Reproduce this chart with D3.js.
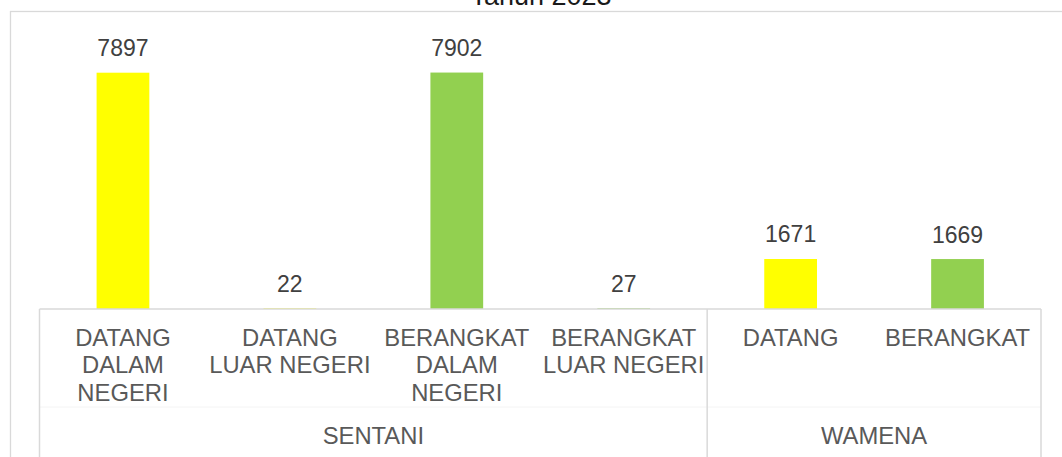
<!DOCTYPE html>
<html>
<head>
<meta charset="utf-8">
<script src="https://cdn.jsdelivr.net/npm/d3@7"></script>
<style>
  body { margin: 0; background: #fff; }
  svg { display: block; font-family: "Liberation Sans", Arial, sans-serif; }
</style>
</head>
<body>
<div id="chart"></div>
<script>
var width = 1062,
    height = 457;

// data
var groups = ["SENTANI", "SENTANI", "SENTANI", "SENTANI", "WAMENA", "WAMENA"];
var categories = [
  ["DATANG", "DALAM", "NEGERI"],
  ["DATANG", "LUAR NEGERI"],
  ["BERANGKAT", "DALAM", "NEGERI"],
  ["BERANGKAT", "LUAR NEGERI"],
  ["DATANG"],
  ["BERANGKAT"]
];
var kinds = ["datang", "datang", "berangkat", "berangkat", "datang", "berangkat"];
var values = [7897, 22, 7902, 27, 1671, 1669];
var title = "Tahun 2023";

var colors = { datang: "#FFFF00", berangkat: "#92D050" };

var plotLeft = 39.5,
    plotRight = 1041,
    baseY = 309;

var svg = d3.select("#chart").append("svg")
    .attr("width", width)
    .attr("height", height);

// chart area border (only top + left fall inside the picture)
svg.append("rect")
    .attr("x", 10.5).attr("y", 11.5)
    .attr("width", width + 20).attr("height", height + 20)
    .attr("fill", "none")
    .attr("stroke", "#D9D9D9")
    .attr("stroke-width", 1.3);

svg.append("text")
    .attr("x", 541).attr("y", 4.5)
    .attr("text-anchor", "middle")
    .attr("font-size", 27)
    .attr("fill", "#1a1a1a")
    .text(title);

var x = d3.scaleBand()
    .domain(d3.range(values.length))
    .range([plotLeft, plotRight])
    .paddingInner(0.684)
    .paddingOuter(0.342);

var y = d3.scaleLinear()
    .domain([0, 9000])
    .range([baseY, baseY - 269.3]);

svg.selectAll("rect.bar")
    .data(values)
    .enter().append("rect")
    .attr("class", "bar")
    .attr("x", function(d, i) { return x(i); })
    .attr("y", function(d) { return y(d); })
    .attr("width", x.bandwidth())
    .attr("height", function(d) { return baseY - y(d); })
    .attr("fill", function(d, i) { return colors[kinds[i]]; });

svg.selectAll("text.value")
    .data(values)
    .enter().append("text")
    .attr("class", "value")
    .attr("x", function(d, i) { return x(i) + x.bandwidth() / 2; })
    .attr("y", function(d) { return y(d) - 16.5; })
    .attr("text-anchor", "middle")
    .attr("font-size", 23)
    .attr("fill", "#404040")
    .text(function(d) { return d; });

// category axis
var axisColor = "#D9D9D9";
svg.append("line")
    .attr("x1", plotLeft).attr("x2", plotRight)
    .attr("y1", baseY).attr("y2", baseY)
    .attr("stroke", axisColor).attr("stroke-width", 1.5);

svg.append("line")
    .attr("x1", plotLeft).attr("x2", plotRight)
    .attr("y1", 407).attr("y2", 407)
    .attr("stroke", "#F4F4F4").attr("stroke-width", 1);

// group spans
var spans = [];
groups.forEach(function(g, i) {
  var last = spans[spans.length - 1];
  if (last && last.name === g) last.end = i;
  else spans.push({ name: g, start: i, end: i });
});

var step = x.step();
var edgeX = function(i) { return x(i) - x.paddingOuter() * step; };

var edges = [edgeX(0)].concat(spans.map(function(s) { return edgeX(s.end) + step; }));
svg.selectAll("line.sep")
    .data(edges)
    .enter().append("line")
    .attr("class", "sep")
    .attr("x1", function(d) { return d; }).attr("x2", function(d) { return d; })
    .attr("y1", baseY).attr("y2", height)
    .attr("stroke", axisColor).attr("stroke-width", 1.5);

var cat = svg.selectAll("text.cat")
    .data(categories)
    .enter().append("text")
    .attr("class", "cat")
    .attr("text-anchor", "middle")
    .attr("font-size", 23.8)
    .attr("fill", "#595959");

cat.selectAll("tspan")
    .data(function(d, i) { return d.map(function(t) { return { t: t, i: i }; }); })
    .enter().append("tspan")
    .attr("x", function(d) { return x(d.i) + x.bandwidth() / 2; })
    .attr("y", function(d, j) { return 346 + j * 27.4; })
    .text(function(d) { return d.t; });

svg.selectAll("text.group")
    .data(spans)
    .enter().append("text")
    .attr("class", "group")
    .attr("x", function(s) { return (edgeX(s.start) + edgeX(s.end) + step) / 2; })
    .attr("y", 444)
    .attr("text-anchor", "middle")
    .attr("font-size", 23.8)
    .attr("fill", "#595959")
    .text(function(s) { return s.name; });
</script>
</body>
</html>
